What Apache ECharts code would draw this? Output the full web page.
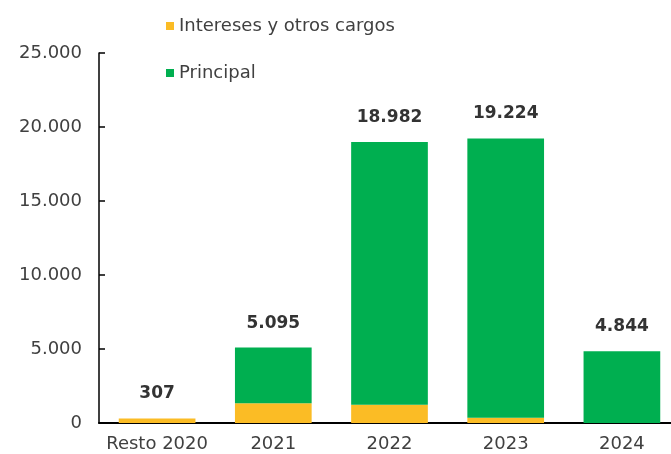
<!DOCTYPE html>
<html>
<head>
    <meta charset="UTF-8">
    <title>Vencimientos</title>
    <script src="https://cdn.jsdelivr.net/npm/echarts@6/dist/echarts.min.js"></script>
    <style type="text/css">
        html, body, #main {
            height: 100%;
            width: 100%;
            margin: 0;
            padding: 0;
            background: #ffffff;
        }
    </style>
</head>
<body>
<div id="main"></div>
<script type="text/javascript">
    // datos
    var categorias = ['Resto 2020', '2021', '2022', '2023', '2024'];
    var intereses = [307, 1340, 1230, 350, 0];
    var principal = [0, 3755, 17752, 18874, 4844];
    var totales = ['307', '5.095', '18.982', '19.224', '4.844'];
    var ticksY = [0, 5000, 10000, 15000, 20000, 25000];

    var fuente = 'DejaVu Sans';

    function fmtMiles(v) {
        return String(v).replace(/\B(?=(\d{3})+(?!\d))/g, '.');
    }

    var chart = echarts.init(document.getElementById('main'));
    var option = {
        animation: false,
        legend: {
            orient: 'vertical',
            left: 161,
            top: 12,
            itemWidth: 8,
            itemHeight: 8,
            itemGap: 29,
            icon: 'rect',
            textStyle: {
                fontFamily: fuente,
                fontSize: 18,
                color: '#404040'
            },
            data: ['Intereses y otros cargos', 'Principal']
        },
        grid: {
            left: 99,
            right: -9,
            top: 53,
            bottom: 31,
            outerBoundsMode: 'none',
            containLabel: false
        },
        xAxis: {
            type: 'category',
            data: categorias,
            axisLine: {lineStyle: {color: '#000000', width: 2}},
            axisTick: {show: false},
            axisLabel: {
                interval: 0,
                margin: 12,
                fontFamily: fuente,
                fontSize: 18,
                color: '#404040'
            }
        },
        yAxis: {
            type: 'value',
            min: ticksY[0],
            max: ticksY[ticksY.length - 1],
            interval: 5000,
            splitLine: {show: false},
            axisLine: {show: true, lineStyle: {color: '#000000', width: 1.5}},
            axisTick: {show: true, inside: true, length: 6, lineStyle: {color: '#000000', width: 1.5}},
            axisLabel: {
                margin: 17,
                fontFamily: fuente,
                fontSize: 18,
                color: '#404040',
                formatter: fmtMiles
            }
        },
        series: [
            {
                name: 'Intereses y otros cargos',
                type: 'bar',
                stack: 'total',
                barCategoryGap: '34%',
                itemStyle: {color: '#FBBC25'},
                data: intereses
            },
            {
                name: 'Principal',
                type: 'bar',
                stack: 'total',
                barCategoryGap: '34%',
                itemStyle: {color: '#00AF50'},
                label: {
                    show: true,
                    position: 'top',
                    distance: 16,
                    fontFamily: fuente,
                    fontWeight: 'bold',
                    fontSize: 17,
                    color: '#333333',
                    formatter: function (p) {
                        return totales[p.dataIndex];
                    }
                },
                data: principal
            }
        ]
    };
    chart.setOption(option);
</script>
</body>
</html>
